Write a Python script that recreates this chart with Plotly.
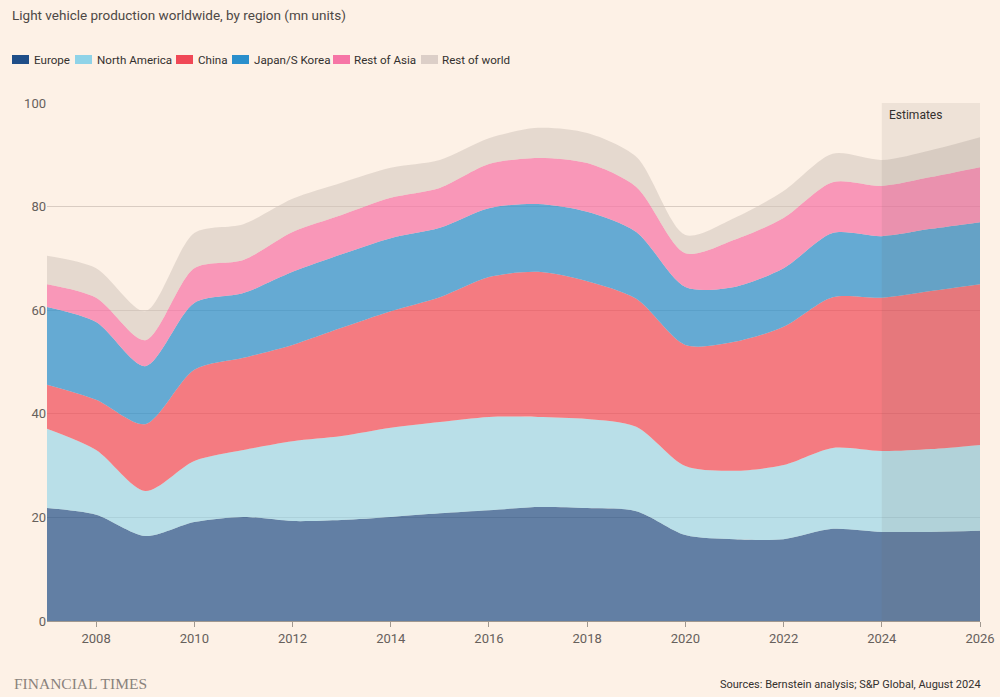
import plotly.graph_objects as go

years = list(range(2007, 2027))
europe = [21.8, 20.5, 16.4, 19.1, 20.1, 19.3, 19.5, 20.1, 20.8, 21.4, 22.0, 21.8, 21.2, 16.6, 15.8, 15.8, 17.8, 17.2, 17.2, 17.4]
north_america = [15.3, 12.5, 8.7, 11.8, 12.9, 15.4, 16.2, 17.2, 17.6, 18.0, 17.4, 17.2, 16.3, 13.3, 13.2, 14.3, 15.6, 15.6, 16.0, 16.6]
china = [8.5, 9.7, 12.9, 17.6, 17.8, 18.6, 20.9, 22.5, 24.1, 27.0, 28.0, 26.6, 24.7, 23.4, 24.9, 26.7, 29.1, 29.6, 30.5, 31.0]
japan_korea = [15.0, 15.0, 11.2, 12.9, 12.5, 14.1, 14.2, 14.1, 13.4, 13.3, 13.1, 13.4, 12.9, 11.2, 10.6, 11.3, 12.4, 11.9, 12.0, 12.0]
rest_of_asia = [4.4, 4.7, 5.0, 6.7, 6.4, 7.7, 7.6, 7.8, 7.7, 8.5, 8.9, 9.4, 8.7, 6.5, 9.1, 9.7, 9.8, 9.7, 10.0, 10.6]
rest_of_world = [5.5, 5.7, 5.6, 6.8, 6.9, 6.4, 6.2, 5.8, 5.4, 5.0, 5.8, 5.8, 5.8, 3.5, 4.2, 5.2, 5.5, 5.0, 5.2, 5.8]

series_names = ["Europe", "North America", "China", "Japan/S Korea", "Rest of Asia", "Rest of world"]
series_values = [europe, north_america, china, japan_korea, rest_of_asia, rest_of_world]
legend_colors = ["#1f4e88", "#8fd3e8", "#f04856", "#2a8fcc", "#f675a6", "#dccfc8"]
fill_colors = ["rgba(31,78,136,0.7)", "rgba(143,211,232,0.62)", "rgba(240,72,86,0.7)",
               "rgba(42,143,204,0.72)", "rgba(246,117,166,0.72)", "rgba(210,196,188,0.55)"]

x_ticks = list(range(2008, 2027, 2))
y_ticks = [0, 20, 40, 60, 80, 100]

W, H = 1000, 697
ML, MR, MT, MB = 47, 20, 103, 76
PW, PH = W - ML - MR, H - MT - MB

def px_x(px):
    return (px - ML) / PW

def px_y(py):
    return (H - MB - py) / PH

bg = "#fdf1e6"
txt = "#66605c"
dark = "#33302e"
font_family = "Roboto, Lato, sans-serif"

fig = go.Figure()
for name, vals, fc in zip(series_names, series_values, fill_colors):
    fig.add_trace(go.Scatter(
        x=years, y=vals, name=name, stackgroup="one", mode="lines",
        line=dict(width=0, shape="spline", smoothing=0.8),
        fillcolor=fc, showlegend=False, hoverinfo="x+y+name"))

# manual legend (swatch left edge px, text left px)
legend_pos = [(12, 32), (75, 95), (176, 196), (232, 252), (333, 352), (421, 440)]
for name, col, (sx, tx) in zip(series_names, legend_colors, legend_pos):
    fig.add_shape(type="rect", xref="paper", yref="paper",
                  x0=px_x(sx), x1=px_x(sx + 17), y0=px_y(64), y1=px_y(55),
                  fillcolor=col, line=dict(width=0))
    fig.add_annotation(x=px_x(tx), y=px_y(60), xref="paper", yref="paper", text=name,
                       showarrow=False, xanchor="left", yanchor="middle",
                       font=dict(size=11.6, color=dark, family=font_family))

fig.add_shape(type="rect", xref="x", yref="y", x0=2024, x1=2026, y0=0, y1=100,
              fillcolor="rgba(110,95,85,0.10)", line=dict(width=0), layer="above")
fig.add_annotation(x=2024, y=100, xref="x", yref="y", text="Estimates", showarrow=False,
                   xanchor="left", yanchor="top", xshift=5, yshift=-3,
                   font=dict(size=12, color=dark, family=font_family))

fig.update_layout(
    width=W, height=H, autosize=False,
    paper_bgcolor=bg, plot_bgcolor=bg,
    margin=dict(l=ML, r=MR, t=MT, b=MB, autoexpand=False),
    font=dict(family=font_family, color=txt, size=13),
    title=dict(text="Light vehicle production worldwide, by region (mn units)",
               x=0.012, xanchor="left", y=0.985, yanchor="top",
               font=dict(size=13.5, color="#4d4845", family=font_family)),
    showlegend=False,
    xaxis=dict(range=[2007, 2026], tickvals=x_ticks, showgrid=False, ticks="outside",
               ticklen=5, tickcolor="#a09890", showline=True, linecolor="#a09890",
               linewidth=1, zeroline=False, automargin=False,
               tickfont=dict(size=13, color=txt)),
    yaxis=dict(range=[0, 100], tickvals=y_ticks, showgrid=True, gridcolor="#d9ccc2",
               gridwidth=1, zeroline=False, ticks="", showline=False, automargin=False,
               tickfont=dict(size=13, color=txt)),
)

fig.add_annotation(x=px_x(12), y=px_y(683), xref="paper", yref="paper", text="FINANCIAL TIMES",
                   showarrow=False, xanchor="left", yanchor="middle",
                   font=dict(size=15.5, color="#8a827c", family="Liberation Serif, DejaVu Serif, serif"))
fig.add_annotation(x=px_x(983), y=px_y(684), xref="paper", yref="paper",
                   text="Sources: Bernstein analysis; S&P Global, August 2024",
                   showarrow=False, xanchor="right", yanchor="middle",
                   font=dict(size=11, color=dark, family=font_family))

fig.write_html("out.html",
               config={"displayModeBar": False, "responsive": False},
               post_script="document.body.style.margin='0';document.body.style.padding='0';"
                           "document.body.style.overflow='hidden';"
                           "document.documentElement.style.overflow='hidden';")
